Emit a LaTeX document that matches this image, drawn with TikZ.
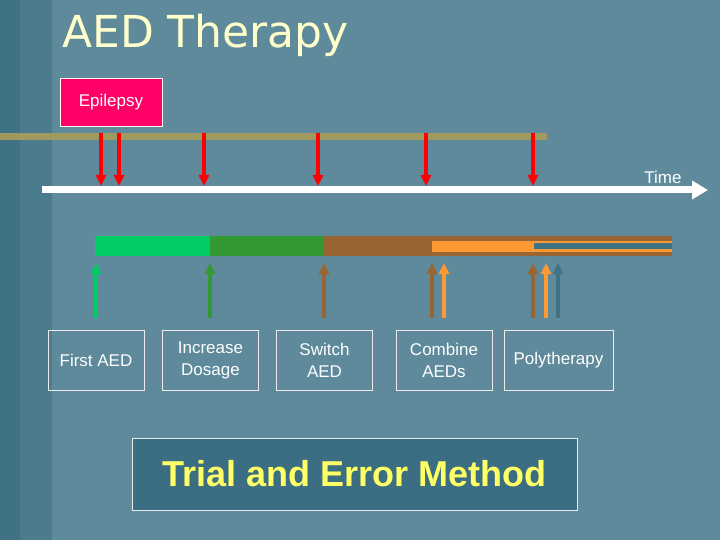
\documentclass[tikz,border=0pt]{standalone}
\usepackage{fontspec}
\setmainfont{Liberation Sans}
\newfontfamily\titlefont{DejaVu Sans}
\usetikzlibrary{arrows.meta}
\definecolor{slide}{HTML}{5E8A9C}
\definecolor{darkslide}{HTML}{3F7285}
\definecolor{olive}{HTML}{A09A60}
\definecolor{epi}{HTML}{FF0066}
\definecolor{lgreen}{HTML}{00CC66}
\definecolor{dgreen}{HTML}{339933}
\definecolor{brown}{HTML}{996633}
\definecolor{orng}{HTML}{FF9933}
\definecolor{trial}{HTML}{3B6E82}
\tikzset{
  step box/.style={draw=white!85!gray,thin,minimum width=96pt,minimum height=60pt,
    align=center,text=white,font=\fontsize{17pt}{22pt}\selectfont},
  down/.style={draw=red,line width=3.5pt,-{Triangle[length=11pt,width=10pt]}},
  up/.style={line width=3.5pt,-{Triangle[length=11pt,width=10pt]}}
}
\begin{document}
\begin{tikzpicture}[x=1pt,y=-1pt]
  % background
  \fill[slide] (0,0) rectangle (720,540);
  \fill[darkslide] (0,0) rectangle (20,540);
  \fill[darkslide!60!slide] (20,0) rectangle (52,540);
  \useasboundingbox (0,0) rectangle (720,540);

  \node[anchor=base west,text={rgb,255:red,255;green,255;blue,204},
    font=\titlefont\fontsize{44pt}{44pt}\selectfont,inner sep=0pt] (title) at (62,48) {AED Therapy};
  \node[draw=white,fill=epi,text=white,minimum width=102pt,minimum height=48pt,
    font=\fontsize{17pt}{20pt}\selectfont] (epilepsy) at (111,102) {Epilepsy};

  \draw[olive,line width=7pt] (0,137) -- (547,137);

  % time axis
  \coordinate (t0) at (42,190);
  \coordinate (t1) at (708,190);
  \draw[white,line width=7pt,-{Triangle[length=16pt,width=18pt]}] (t0) -- (t1);
  \node[text=white,font=\fontsize{17pt}{20pt}\selectfont] (time) at (663,177) {Time};

  \foreach \x in {101,119,204,318,426,533}
    \draw[down] (\x,133) -- (\x,186);

  % treatment bars
  \fill[lgreen] (95,236) rectangle (210,256);
  \fill[dgreen] (210,236) rectangle (324,256);
  \fill[brown] (324,236) rectangle (672,256);
  \fill[orng] (432,241) rectangle (672,252);
  \fill[darkslide] (534,243) rectangle (672,249);

  \foreach \x/\c in {96/lgreen,210/dgreen,324/brown,432/brown,444/orng,533/brown,546/orng,558/darkslide}
    \draw[up,draw=\c] (\x,318) -- (\x,263);

  \node[step box] (first) at (96,360) {First AED};
  \node[step box] (increase) at (210.5,360) {Increase\\Dosage};
  \node[step box] (switch) at (324.5,360) {Switch\\AED};
  \node[step box] (combine) at (444,360) {Combine\\AEDs};
  \node[step box,minimum width=109pt] (poly) at (558.5,360) {Polytherapy};

  \node[draw=white!85!gray,fill=trial,minimum width=445pt,minimum height=72pt,
    text={rgb,255:red,255;green,255;blue,102},font=\bfseries\fontsize{36pt}{36pt}\selectfont]
    (method) at (354.5,474) {Trial and Error Method};
\end{tikzpicture}
\end{document}
